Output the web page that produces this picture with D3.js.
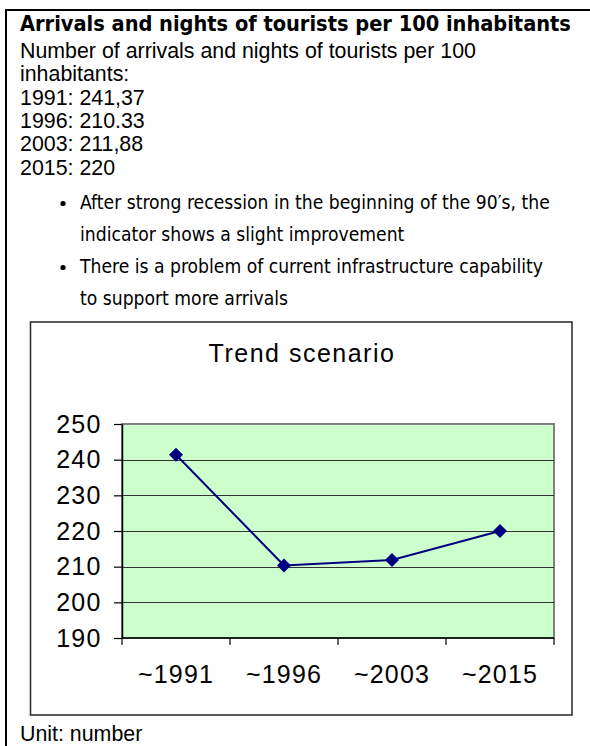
<!DOCTYPE html>
<html><head><meta charset="utf-8">
<script src="https://cdn.jsdelivr.net/npm/d3@7"></script>
<style>html,body{margin:0;padding:0;background:#fff}</style>
</head><body>
<svg id="c" width="590" height="746"></svg>
<script>
// ---- content ----
const heading = "Arrivals and nights of tourists per 100 inhabitants";
const introLines = ["Number of arrivals and nights of tourists per 100", "inhabitants:"];
const years = ["1991", "1996", "2003", "2015"];
const valueLabels = ["241,37", "210.33", "211,88", "220"];
const bulletLines = [
  ["After strong recession in the beginning of the 90\u2032s, the", "indicator shows a slight improvement"],
  ["There is a problem of current infrastructure capability", "to support more arrivals"]
];
const chartTitle = "Trend scenario";
const categories = ["~1991", "~1996", "~2003", "~2015"];
const values = [241.37, 210.33, 211.88, 220];
const yTicks = [190, 200, 210, 220, 230, 240, 250];
const unitNote = "Unit: number";

const svg = d3.select("#c");

// scale a font so that a line spans the wanted width
function fitSize(sel, target) {
  const w = sel.node().getComputedTextLength();
  const fs = parseFloat(sel.attr("font-size"));
  return fs * target / w;
}

// ---- outer frame (top and left rules) ----
svg.append("line").attr("x1", 5).attr("x2", 590).attr("y1", 10).attr("y2", 10)
  .attr("stroke", "#000").attr("stroke-width", 2);
svg.append("line").attr("x1", 6).attr("x2", 6).attr("y1", 9).attr("y2", 746)
  .attr("stroke", "#000").attr("stroke-width", 2);

// ---- heading ----
const h = svg.append("text").attr("x", 20).attr("y", 31)
  .attr("font-family", "'DejaVu Sans Condensed','DejaVu Sans',sans-serif")
  .attr("font-weight", "bold").attr("font-size", 19).attr("fill", "#000")
  .text(heading);
h.attr("font-size", fitSize(h, 551));

// ---- intro lines and yearly values ----
const infoTexts = introLines.concat(years.map((y, i) => `${y}: ${valueLabels[i]}`));
const info = svg.append("g")
  .attr("font-family", "'Liberation Sans',Arial,sans-serif").attr("fill", "#000");
const infoSel = info.selectAll("text").data(infoTexts).join("text")
  .attr("x", 20).attr("y", (d, i) => 58 + i * 23.3)
  .attr("font-size", 17).text(d => d);
const infoFs = fitSize(d3.select(infoSel.nodes()[0]), 456);
infoSel.attr("font-size", infoFs);

// ---- bullet points ----
const bulletFont = "'DejaVu Sans Condensed','DejaVu Sans',sans-serif";
const bl = svg.append("g").attr("font-family", bulletFont).attr("fill", "#000");
const flat = [];
bulletLines.forEach((lines, bi) => lines.forEach((t, li) => flat.push({t, bi, li})));
const bSel = bl.selectAll("text").data(flat).join("text")
  .attr("x", 80).attr("y", (d, i) => 209 + i * 32)
  .attr("font-size", 16).text(d => d.t);
const bFs = fitSize(d3.select(bSel.nodes()[0]), 470);
bSel.attr("font-size", bFs);
bl.selectAll("circle").data(flat.filter(d => d.li === 0)).join("circle")
  .attr("cx", 63).attr("cy", d => 209 + flat.indexOf(d) * 32 - 5.5)
  .attr("r", 2.6).attr("fill", "#000");

// ---- chart box ----
svg.append("rect").attr("x", 30.5).attr("y", 322).attr("width", 541.5).attr("height", 393)
  .attr("fill", "#fff").attr("stroke", "#333").attr("stroke-width", 1.6);

svg.append("text").attr("x", 302).attr("y", 362).attr("text-anchor", "middle")
  .attr("font-family", "'Liberation Sans',Arial,sans-serif").attr("font-size", 25)
  .attr("letter-spacing", 1.5).attr("fill", "#000").text(chartTitle);

const plot = {left: 122, right: 554, top: 424, bottom: 638};
const x = d3.scaleBand().domain(categories).range([plot.left, plot.right]).padding(0);
const y = d3.scaleLinear().domain([190, 250]).range([plot.bottom, plot.top]);

// plot area
svg.append("rect").attr("x", plot.left).attr("y", plot.top)
  .attr("width", plot.right - plot.left).attr("height", plot.bottom - plot.top)
  .attr("fill", "#CCFFCC").attr("stroke", "#808080").attr("stroke-width", 2);

// horizontal gridlines
svg.append("g").selectAll("line").data(yTicks.filter(v => v > 190 && v < 250)).join("line")
  .attr("x1", plot.left).attr("x2", plot.right)
  .attr("y1", d => Math.round(y(d)) + 0.5).attr("y2", d => Math.round(y(d)) + 0.5)
  .attr("stroke", "#333").attr("stroke-width", 1);

// y axis
const yAxis = svg.append("g").attr("transform", `translate(${plot.left},0)`)
  .call(d3.axisLeft(y).tickValues(yTicks).tickSizeInner(8).tickSizeOuter(0).tickPadding(12.5));
yAxis.select(".domain").attr("stroke", "#000").attr("stroke-width", 1.5);
yAxis.selectAll(".tick line").attr("stroke", "#000").attr("stroke-width", 1.2);
yAxis.selectAll(".tick text")
  .attr("font-family", "'Liberation Sans',Arial,sans-serif").attr("font-size", 25)
  .attr("letter-spacing", 1.2).attr("fill", "#000");

// x axis: labels at category centres, ticks at category boundaries
const xAxis = svg.append("g").attr("transform", `translate(0,${plot.bottom})`)
  .call(d3.axisBottom(x).tickSize(0).tickPadding(27));
xAxis.select(".domain").remove();
xAxis.selectAll(".tick text")
  .attr("font-family", "'Liberation Sans',Arial,sans-serif").attr("font-size", 25)
  .attr("letter-spacing", 1.2).attr("fill", "#000");
svg.append("line").attr("x1", plot.left).attr("x2", plot.right)
  .attr("y1", plot.bottom).attr("y2", plot.bottom)
  .attr("stroke", "#000").attr("stroke-width", 1.5);
const bounds = categories.map(c => x(c)).concat([x.range()[1]]);
svg.append("g").selectAll("line").data(bounds).join("line")
  .attr("x1", d => d).attr("x2", d => d)
  .attr("y1", plot.bottom).attr("y2", plot.bottom + 7)
  .attr("stroke", "#000").attr("stroke-width", 1.2);

// series line and diamond markers
const cx = c => x(c) + x.bandwidth() / 2;
const pts = categories.map((c, i) => [cx(c), y(values[i])]);
svg.append("path").datum(pts).attr("d", d3.line())
  .attr("fill", "none").attr("stroke", "#000080").attr("stroke-width", 2);

const diamond = {
  draw(ctx, size) {
    const r = Math.sqrt(size) / 2;
    ctx.moveTo(0, -r); ctx.lineTo(r, 0); ctx.lineTo(0, r); ctx.lineTo(-r, 0); ctx.closePath();
  }
};
svg.append("g").selectAll("path").data(pts).join("path")
  .attr("transform", d => `translate(${d[0]},${d[1]})`)
  .attr("d", d3.symbol().type(diamond).size(14 * 14))
  .attr("fill", "#000080");

// ---- unit note ----
svg.append("text").attr("x", 20).attr("y", 741)
  .attr("font-family", "'Liberation Sans',Arial,sans-serif").attr("font-size", infoFs)
  .attr("fill", "#000").text(unitNote);
</script>
</body></html>
